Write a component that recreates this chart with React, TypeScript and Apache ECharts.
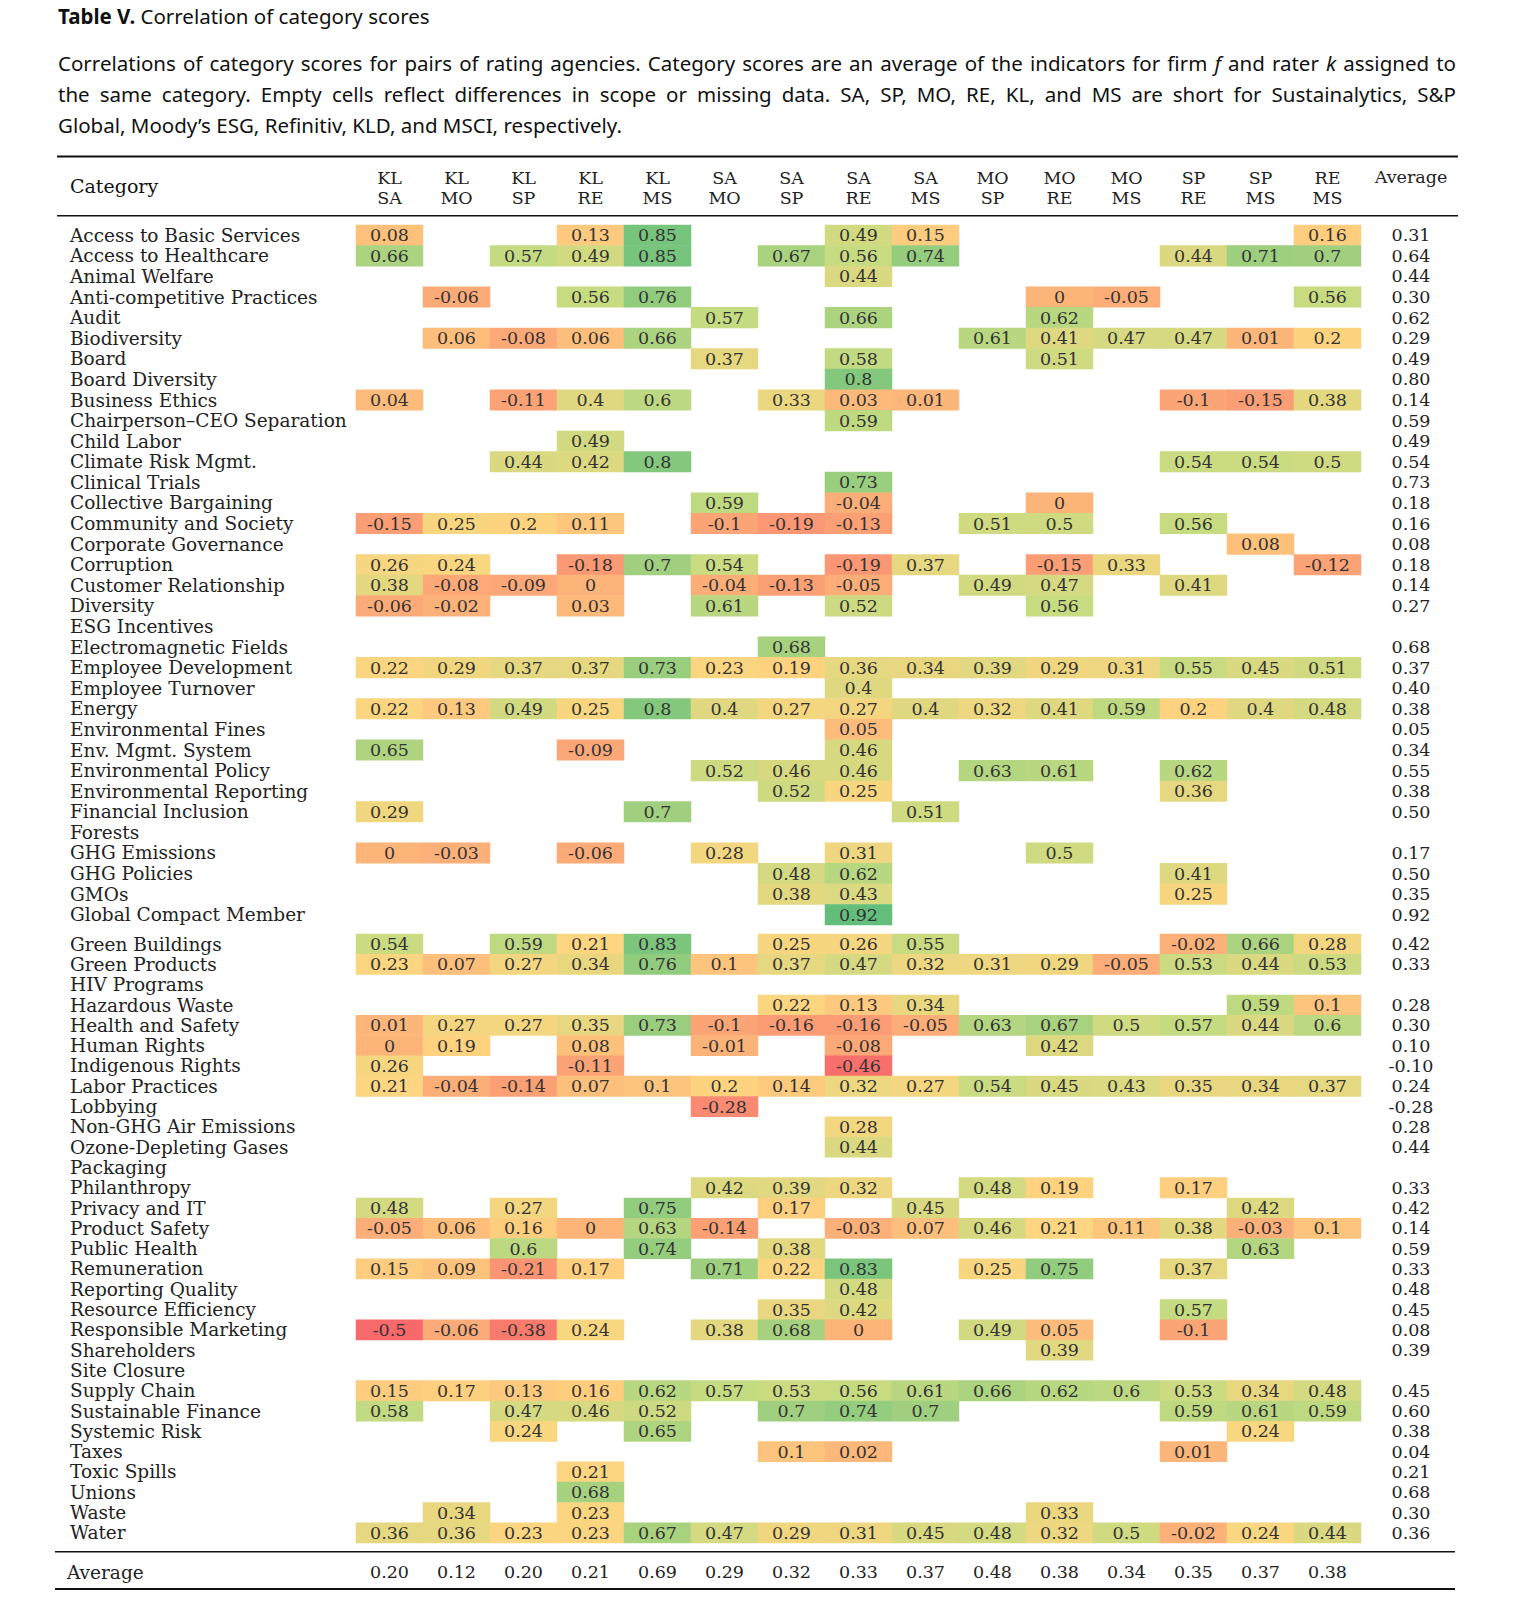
import React, { useEffect, useRef } from 'react';
import * as echarts from 'echarts';

const N = null;

const pairs = ['KL\nSA', 'KL\nMO', 'KL\nSP', 'KL\nRE', 'KL\nMS', 'SA\nMO', 'SA\nSP', 'SA\nRE', 'SA\nMS', 'MO\nSP', 'MO\nRE', 'MO\nMS', 'SP\nRE', 'SP\nMS', 'RE\nMS'];
const pairAverages = ['0.20', '0.12', '0.20', '0.21', '0.69', '0.29', '0.32', '0.33', '0.37', '0.48', '0.38', '0.34', '0.35', '0.37', '0.38'];

const categoriesTop = [
  'Access to Basic Services', 'Access to Healthcare', 'Animal Welfare', 'Anti-competitive Practices', 'Audit',
  'Biodiversity', 'Board', 'Board Diversity', 'Business Ethics', 'Chairperson\u2013CEO Separation', 'Child Labor',
  'Climate Risk Mgmt.', 'Clinical Trials', 'Collective Bargaining', 'Community and Society', 'Corporate Governance',
  'Corruption', 'Customer Relationship', 'Diversity', 'ESG Incentives', 'Electromagnetic Fields',
  'Employee Development', 'Employee Turnover', 'Energy', 'Environmental Fines', 'Env. Mgmt. System',
  'Environmental Policy', 'Environmental Reporting', 'Financial Inclusion', 'Forests', 'GHG Emissions',
  'GHG Policies', 'GMOs', 'Global Compact Member',
];
const categoriesBottom = [
  'Green Buildings', 'Green Products', 'HIV Programs', 'Hazardous Waste', 'Health and Safety', 'Human Rights',
  'Indigenous Rights', 'Labor Practices', 'Lobbying', 'Non-GHG Air Emissions', 'Ozone-Depleting Gases', 'Packaging',
  'Philanthropy', 'Privacy and IT', 'Product Safety', 'Public Health', 'Remuneration', 'Reporting Quality',
  'Resource Efficiency', 'Responsible Marketing', 'Shareholders', 'Site Closure', 'Supply Chain',
  'Sustainable Finance', 'Systemic Risk', 'Taxes', 'Toxic Spills', 'Unions', 'Waste', 'Water',
];

// columns: KLSA KLMO KLSP KLRE KLMS SAMO SASP SARE SAMS MOSP MORE MOMS SPRE SPMS REMS
const valuesTop: (number | null)[][] = [
  [0.08, N, N, 0.13, 0.85, N, N, 0.49, 0.15, N, N, N, N, N, 0.16],
  [0.66, N, 0.57, 0.49, 0.85, N, 0.67, 0.56, 0.74, N, N, N, 0.44, 0.71, 0.7],
  [N, N, N, N, N, N, N, 0.44, N, N, N, N, N, N, N],
  [N, -0.06, N, 0.56, 0.76, N, N, N, N, N, 0, -0.05, N, N, 0.56],
  [N, N, N, N, N, 0.57, N, 0.66, N, N, 0.62, N, N, N, N],
  [N, 0.06, -0.08, 0.06, 0.66, N, N, N, N, 0.61, 0.41, 0.47, 0.47, 0.01, 0.2],
  [N, N, N, N, N, 0.37, N, 0.58, N, N, 0.51, N, N, N, N],
  [N, N, N, N, N, N, N, 0.8, N, N, N, N, N, N, N],
  [0.04, N, -0.11, 0.4, 0.6, N, 0.33, 0.03, 0.01, N, N, N, -0.1, -0.15, 0.38],
  [N, N, N, N, N, N, N, 0.59, N, N, N, N, N, N, N],
  [N, N, N, 0.49, N, N, N, N, N, N, N, N, N, N, N],
  [N, N, 0.44, 0.42, 0.8, N, N, N, N, N, N, N, 0.54, 0.54, 0.5],
  [N, N, N, N, N, N, N, 0.73, N, N, N, N, N, N, N],
  [N, N, N, N, N, 0.59, N, -0.04, N, N, 0, N, N, N, N],
  [-0.15, 0.25, 0.2, 0.11, N, -0.1, -0.19, -0.13, N, 0.51, 0.5, N, 0.56, N, N],
  [N, N, N, N, N, N, N, N, N, N, N, N, N, 0.08, N],
  [0.26, 0.24, N, -0.18, 0.7, 0.54, N, -0.19, 0.37, N, -0.15, 0.33, N, N, -0.12],
  [0.38, -0.08, -0.09, 0, N, -0.04, -0.13, -0.05, N, 0.49, 0.47, N, 0.41, N, N],
  [-0.06, -0.02, N, 0.03, N, 0.61, N, 0.52, N, N, 0.56, N, N, N, N],
  [N, N, N, N, N, N, N, N, N, N, N, N, N, N, N],
  [N, N, N, N, N, N, 0.68, N, N, N, N, N, N, N, N],
  [0.22, 0.29, 0.37, 0.37, 0.73, 0.23, 0.19, 0.36, 0.34, 0.39, 0.29, 0.31, 0.55, 0.45, 0.51],
  [N, N, N, N, N, N, N, 0.4, N, N, N, N, N, N, N],
  [0.22, 0.13, 0.49, 0.25, 0.8, 0.4, 0.27, 0.27, 0.4, 0.32, 0.41, 0.59, 0.2, 0.4, 0.48],
  [N, N, N, N, N, N, N, 0.05, N, N, N, N, N, N, N],
  [0.65, N, N, -0.09, N, N, N, 0.46, N, N, N, N, N, N, N],
  [N, N, N, N, N, 0.52, 0.46, 0.46, N, 0.63, 0.61, N, 0.62, N, N],
  [N, N, N, N, N, N, 0.52, 0.25, N, N, N, N, 0.36, N, N],
  [0.29, N, N, N, 0.7, N, N, N, 0.51, N, N, N, N, N, N],
  [N, N, N, N, N, N, N, N, N, N, N, N, N, N, N],
  [0, -0.03, N, -0.06, N, 0.28, N, 0.31, N, N, 0.5, N, N, N, N],
  [N, N, N, N, N, N, 0.48, 0.62, N, N, N, N, 0.41, N, N],
  [N, N, N, N, N, N, 0.38, 0.43, N, N, N, N, 0.25, N, N],
  [N, N, N, N, N, N, N, 0.92, N, N, N, N, N, N, N],
];
const valuesBottom: (number | null)[][] = [
  [0.54, N, 0.59, 0.21, 0.83, N, 0.25, 0.26, 0.55, N, N, N, -0.02, 0.66, 0.28],
  [0.23, 0.07, 0.27, 0.34, 0.76, 0.1, 0.37, 0.47, 0.32, 0.31, 0.29, -0.05, 0.53, 0.44, 0.53],
  [N, N, N, N, N, N, N, N, N, N, N, N, N, N, N],
  [N, N, N, N, N, N, 0.22, 0.13, 0.34, N, N, N, N, 0.59, 0.1],
  [0.01, 0.27, 0.27, 0.35, 0.73, -0.1, -0.16, -0.16, -0.05, 0.63, 0.67, 0.5, 0.57, 0.44, 0.6],
  [0, 0.19, N, 0.08, N, -0.01, N, -0.08, N, N, 0.42, N, N, N, N],
  [0.26, N, N, -0.11, N, N, N, -0.46, N, N, N, N, N, N, N],
  [0.21, -0.04, -0.14, 0.07, 0.1, 0.2, 0.14, 0.32, 0.27, 0.54, 0.45, 0.43, 0.35, 0.34, 0.37],
  [N, N, N, N, N, -0.28, N, N, N, N, N, N, N, N, N],
  [N, N, N, N, N, N, N, 0.28, N, N, N, N, N, N, N],
  [N, N, N, N, N, N, N, 0.44, N, N, N, N, N, N, N],
  [N, N, N, N, N, N, N, N, N, N, N, N, N, N, N],
  [N, N, N, N, N, 0.42, 0.39, 0.32, N, 0.48, 0.19, N, 0.17, N, N],
  [0.48, N, 0.27, N, 0.75, N, 0.17, N, 0.45, N, N, N, N, 0.42, N],
  [-0.05, 0.06, 0.16, 0, 0.63, -0.14, N, -0.03, 0.07, 0.46, 0.21, 0.11, 0.38, -0.03, 0.1],
  [N, N, 0.6, N, 0.74, N, 0.38, N, N, N, N, N, N, 0.63, N],
  [0.15, 0.09, -0.21, 0.17, N, 0.71, 0.22, 0.83, N, 0.25, 0.75, N, 0.37, N, N],
  [N, N, N, N, N, N, N, 0.48, N, N, N, N, N, N, N],
  [N, N, N, N, N, N, 0.35, 0.42, N, N, N, N, 0.57, N, N],
  [-0.5, -0.06, -0.38, 0.24, N, 0.38, 0.68, 0, N, 0.49, 0.05, N, -0.1, N, N],
  [N, N, N, N, N, N, N, N, N, N, 0.39, N, N, N, N],
  [N, N, N, N, N, N, N, N, N, N, N, N, N, N, N],
  [0.15, 0.17, 0.13, 0.16, 0.62, 0.57, 0.53, 0.56, 0.61, 0.66, 0.62, 0.6, 0.53, 0.34, 0.48],
  [0.58, N, 0.47, 0.46, 0.52, N, 0.7, 0.74, 0.7, N, N, N, 0.59, 0.61, 0.59],
  [N, N, 0.24, N, 0.65, N, N, N, N, N, N, N, N, 0.24, N],
  [N, N, N, N, N, N, 0.1, 0.02, N, N, N, N, 0.01, N, N],
  [N, N, N, 0.21, N, N, N, N, N, N, N, N, N, N, N],
  [N, N, N, 0.68, N, N, N, N, N, N, N, N, N, N, N],
  [N, 0.34, N, 0.23, N, N, N, N, N, N, 0.33, N, N, N, N],
  [0.36, 0.36, 0.23, 0.23, 0.67, 0.47, 0.29, 0.31, 0.45, 0.48, 0.32, 0.5, -0.02, 0.24, 0.44],
];

const averagesTop = ['0.31', '0.64', '0.44', '0.30', '0.62', '0.29', '0.49', '0.80', '0.14', '0.59', '0.49', '0.54', '0.73', '0.18', '0.16', '0.08', '0.18', '0.14', '0.27', '', '0.68', '0.37', '0.40', '0.38', '0.05', '0.34', '0.55', '0.38', '0.50', '', '0.17', '0.50', '0.35', '0.92'];
const averagesBottom = ['0.42', '0.33', '', '0.28', '0.30', '0.10', '-0.10', '0.24', '-0.28', '0.28', '0.44', '', '0.33', '0.42', '0.14', '0.59', '0.33', '0.48', '0.45', '0.08', '0.39', '', '0.45', '0.60', '0.38', '0.04', '0.21', '0.68', '0.30', '0.36'];

const captionLines = [
  'Correlations of category scores for pairs of rating agencies. Category scores are an average of the indicators for firm f and rater k assigned to',
  'the same category. Empty cells reflect differences in scope or missing data. SA, SP, MO, RE, KL, and MS are short for Sustainalytics, S&P',
  'Global, Moody\u2019s ESG, Refinitiv, KLD, and MSCI, respectively.',
];

const colorStops = ['#F8696B', '#FB9E75', '#FED580', '#C6DB81', '#63BE7B'];

const SERIF = '"DejaVu Serif", serif';
const SANS = '"Noto Sans", sans-serif';

const toCells = (rows: (number | null)[][]) => {
  const out: [number, number, number][] = [];
  rows.forEach((r, y) => r.forEach((v, x) => { if (v !== null) out.push([x, y, v]); }));
  return out;
};

// lay out caption words, justified to a fixed width (last line left aligned)
const captionGraphics = (x0: number, x1: number, y0: number, step: number, size: number) => {
  const ctx = document.createElement('canvas').getContext('2d')!;
  const els: any[] = [];
  captionLines.forEach((line, li) => {
    const words = line.split(' ');
    const fonts = words.map((w) => (li === 0 && (w === 'f' || w === 'k') ? `italic ${size}px ${SANS}` : `${size}px ${SANS}`));
    const widths = words.map((w, i) => { ctx.font = fonts[i]; return ctx.measureText(w).width; });
    ctx.font = `${size}px ${SANS}`;
    const space = ctx.measureText(' ').width;
    const total = widths.reduce((a, b) => a + b, 0);
    const gap = li < captionLines.length - 1 ? (x1 - x0 - total) / (words.length - 1) : space;
    let x = x0;
    words.forEach((w, i) => {
      els.push({ type: 'text', x, y: y0 + li * step, style: { text: w, font: fonts[i], fill: '#111', textVerticalAlign: 'middle' } });
      x += widths[i] + gap;
    });
  });
  return els;
};

const App: React.FC = () => {
  const ref = useRef<HTMLDivElement | null>(null);

  useEffect(() => {
    document.body.style.margin = '0';
    if (!ref.current) return;
    const chart = echarts.init(ref.current, undefined, { renderer: 'svg' });
    const LEFT = 356, WIDTH = 1005;

    const catAxis = (data: string[], gridIndex: number) => ({
      type: 'category', data, gridIndex, inverse: true, position: 'left',
      axisLine: { show: false }, axisTick: { show: false }, splitLine: { show: false },
      axisLabel: { interval: 0, align: 'left', margin: LEFT - 70, fontFamily: SERIF, fontSize: 18.5, color: '#222' },
    });
    const avgAxis = (data: string[], gridIndex: number) => ({
      type: 'category', data, gridIndex, inverse: true, position: 'right',
      axisLine: { show: false }, axisTick: { show: false }, splitLine: { show: false },
      axisLabel: { interval: 0, align: 'center', margin: 50, fontFamily: SERIF, fontSize: 17.5, color: '#222' },
    });
    const cellLabel = {
      show: true, fontFamily: SERIF, fontSize: 17.5, color: '#333',
      formatter: (p: any) => String(p.value[2]),
    };

    chart.setOption({
      animation: false,
      backgroundColor: '#fff',
      grid: [
        { left: LEFT, width: WIDTH, top: 225, height: 700 },
        { left: LEFT, width: WIDTH, top: 934, height: 609 },
      ],
      xAxis: [
        {
          type: 'category', data: pairs, gridIndex: 0, position: 'top',
          axisLine: { show: false }, axisTick: { show: false }, splitLine: { show: false },
          axisLabel: { margin: 17, lineHeight: 20, fontFamily: SERIF, fontSize: 17.5, color: '#222', interval: 0 },
        },
        {
          type: 'category', data: pairs, gridIndex: 1, position: 'bottom',
          axisLine: { show: false }, axisTick: { show: false }, splitLine: { show: false },
          axisLabel: {
            margin: 20, fontFamily: SERIF, fontSize: 17.5, color: '#222', interval: 0,
            formatter: (_v: string, i: number) => pairAverages[i],
          },
        },
      ],
      yAxis: [
        catAxis(categoriesTop, 0), avgAxis(averagesTop, 0),
        catAxis(categoriesBottom, 1), avgAxis(averagesBottom, 1),
      ],
      visualMap: {
        show: false, type: 'continuous', min: -0.5, max: 0.92, dimension: 2,
        seriesIndex: [0, 1], inRange: { color: colorStops },
      },
      series: [
        { type: 'heatmap', xAxisIndex: 0, yAxisIndex: 0, data: toCells(valuesTop), label: cellLabel, itemStyle: { borderWidth: 0 } },
        { type: 'heatmap', xAxisIndex: 1, yAxisIndex: 2, data: toCells(valuesBottom), label: cellLabel, itemStyle: { borderWidth: 0 } },
      ],
      graphic: [
        {
          type: 'text', x: 58, y: 16,
          style: {
            text: '{b|Table V.} Correlation of category scores', textVerticalAlign: 'middle',
            font: `20.5px ${SANS}`, fill: '#111',
            rich: { b: { fontWeight: 'bold', fontFamily: SANS, fontSize: 20.5 } },
          },
        },
        ...captionGraphics(58, 1456, 63, 31, 20.5),
        { type: 'rect', shape: { x: 57, y: 155.5, width: 1401, height: 2 }, style: { fill: '#111' } },
        { type: 'rect', shape: { x: 57, y: 215, width: 1401, height: 1.5 }, style: { fill: '#111' } },
        { type: 'rect', shape: { x: 55, y: 1551, width: 1400, height: 1.5 }, style: { fill: '#111' } },
        { type: 'rect', shape: { x: 55, y: 1588, width: 1400, height: 2 }, style: { fill: '#111' } },
        { type: 'text', x: 70, y: 186, style: { text: 'Category', font: `19px ${SERIF}`, fill: '#111', textVerticalAlign: 'middle' } },
        { type: 'text', x: 1411, y: 177, style: { text: 'Average', font: `17.5px ${SERIF}`, fill: '#222', align: 'center', textVerticalAlign: 'middle' } },
        { type: 'text', x: 67, y: 1572, style: { text: 'Average', font: `18.5px ${SERIF}`, fill: '#222', textVerticalAlign: 'middle' } },
      ],
    });

    return () => chart.dispose();
  }, []);

  return <div ref={ref} style={{ width: 1514, height: 1602 }} />;
};

export default App;
